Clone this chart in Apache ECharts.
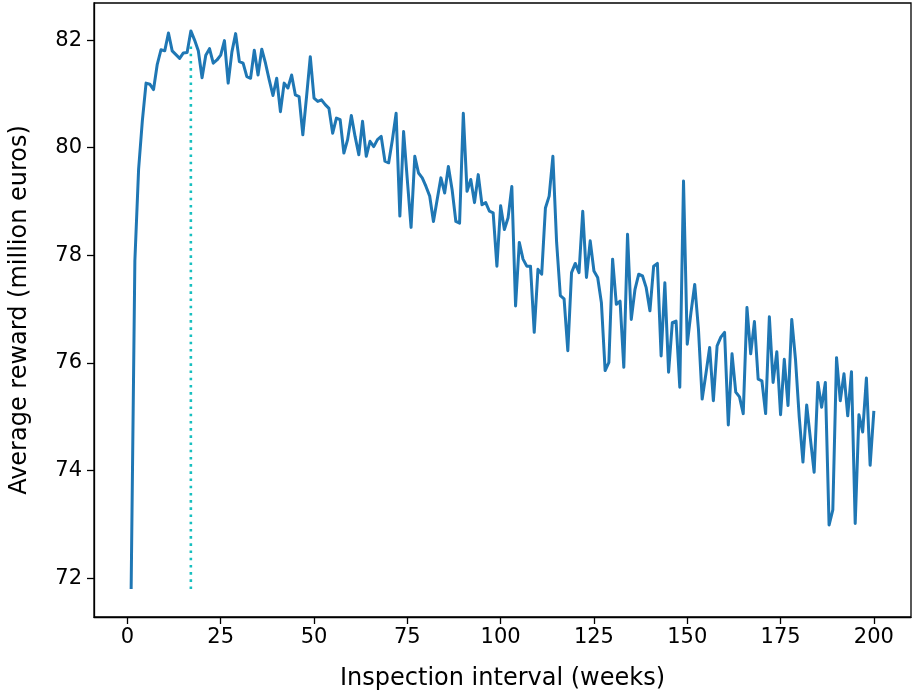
<!DOCTYPE html>
<html>
<head>
<meta charset="utf-8">
<script src="https://cdn.jsdelivr.net/npm/echarts@6/dist/echarts.min.js"></script>
<style>
html,body{margin:0;padding:0;background:#fff;}
#chart{width:913px;height:698px;}
</style>
</head>
<body>
<div id="chart"></div>
<script>
// Inspection interval in weeks (1..200)
const weeks = [];
for (let w = 1; w <= 200; w++) weeks.push(w);

// Average reward (million euros)
const rewards = [
71.8,77.9,79.6,80.5,81.2,81.18,81.08,81.55,81.82,81.8,
82.13,81.8,81.73,81.66,81.76,81.77,82.17,82.0,81.8,81.3,
81.72,81.84,81.57,81.63,81.72,81.99,81.2,81.78,82.12,81.6,
81.57,81.32,81.29,81.81,81.35,81.83,81.57,81.26,80.97,81.29,
80.67,81.2,81.11,81.35,80.98,80.95,80.24,80.95,81.69,80.92,
80.86,80.89,80.8,80.73,80.27,80.55,80.52,79.9,80.15,80.6,
80.21,79.87,80.49,79.84,80.12,80.02,80.15,80.21,79.75,79.72,
80.15,80.64,78.73,80.3,79.4,78.52,79.84,79.53,79.44,79.28,
79.1,78.63,79.04,79.44,79.16,79.65,79.22,78.63,78.6,80.64,
79.19,79.41,78.98,79.5,78.94,78.98,78.82,78.79,77.8,78.92,
78.48,78.7,79.28,77.06,78.24,77.93,77.8,77.8,76.57,77.74,
77.65,78.88,79.1,79.84,78.24,77.25,77.19,76.23,77.68,77.85,
77.68,78.82,77.59,78.27,77.71,77.59,77.12,75.86,76.01,77.93,
77.09,77.15,75.92,78.39,76.81,77.37,77.65,77.62,77.4,76.97,
77.8,77.85,76.13,77.49,75.83,76.75,76.78,75.55,79.38,76.35,
76.94,77.46,76.63,75.33,75.8,76.29,75.3,76.32,76.48,76.57,
74.85,76.17,75.46,75.37,75.06,77.03,76.17,76.77,75.7,75.67,
75.06,76.86,75.64,76.21,75.04,76.07,75.21,76.81,76.07,75.0,
74.16,75.22,74.59,73.97,75.64,75.18,75.64,72.99,73.27,76.1,
75.3,75.8,75.02,75.84,73.02,75.04,74.72,75.72,74.1,75.11
];

// Optimal interval marker
const bestWeek = 17;
const markerRange = [71.8, 81.95];

// Tick labels
const xTicks = [0, 25, 50, 75, 100, 125, 150, 175, 200];
const yTicks = [72, 74, 76, 78, 80, 82];

const lineData = weeks.map((w, i) => [w, rewards[i]]);
const markerData = [[bestWeek, markerRange[0]], [bestWeek, markerRange[1]]];

// matplotlib-like 5% margins
const xSpan = weeks[weeks.length - 1] - weeks[0];
const yLo = Math.min(...rewards), yHi = Math.max(...rewards);
const ySpan = yHi - yLo;

const font = 'DejaVu Sans';
const chart = echarts.init(document.getElementById('chart'), null, {renderer: 'canvas'});
chart.setOption({
  animation: false,
  backgroundColor: '#ffffff',
  grid: {left: 92, right: 2, top: 3, bottom: 81, show: true, borderColor: '#000', borderWidth: 1.3, backgroundColor: 'transparent'},
  xAxis: {
    type: 'value',
    min: weeks[0] - 0.05 * xSpan,
    max: weeks[weeks.length - 1] + 0.05 * xSpan,
    name: 'Inspection interval (weeks)',
    nameLocation: 'middle',
    nameGap: 50,
    nameTextStyle: {fontFamily: font, fontSize: 24, color: '#000'},
    axisLine: {show: true, onZero: false, lineStyle: {color: '#000', width: 1.3}},
    axisTick: {show: true, length: 7, lineStyle: {color: '#000', width: 1.3}, customValues: xTicks},
    axisLabel: {fontFamily: font, fontSize: 21, color: '#000', margin: 10, customValues: xTicks},
    splitLine: {show: false}
  },
  yAxis: {
    type: 'value',
    min: yLo - 0.05 * ySpan,
    max: yHi + 0.05 * ySpan,
    name: 'Average reward (million euros)',
    nameLocation: 'middle',
    nameGap: 62,
    nameRotate: 90,
    nameTextStyle: {fontFamily: font, fontSize: 24, color: '#000'},
    axisLine: {show: true, onZero: false, lineStyle: {color: '#000', width: 1.3}},
    axisTick: {show: true, length: 7, lineStyle: {color: '#000', width: 1.3}, customValues: yTicks},
    axisLabel: {fontFamily: font, fontSize: 21, color: '#000', margin: 12, customValues: yTicks},
    splitLine: {show: false}
  },
  series: [
    {
      type: 'line',
      data: lineData,
      showSymbol: false,
      symbol: 'none',
      lineStyle: {color: '#1f77b4', width: 3, join: 'round'},
      z: 3
    },
    {
      type: 'line',
      data: markerData,
      showSymbol: false,
      symbol: 'none',
      lineStyle: {color: '#17bfbf', width: 2.6, type: [2.6, 4.6]},
      z: 2
    }
  ]
});
</script>
</body>
</html>
